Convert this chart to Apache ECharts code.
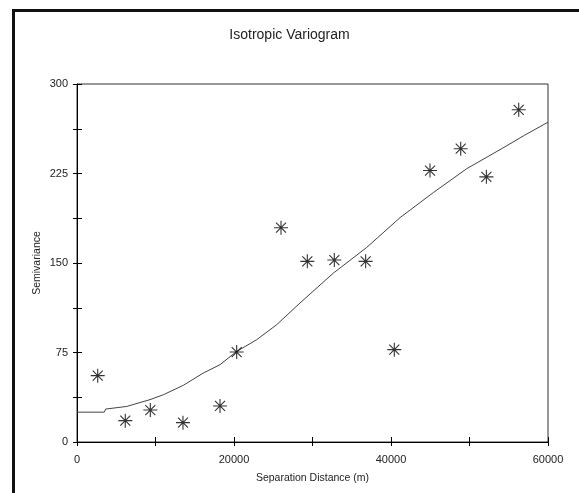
<!DOCTYPE html>
<html>
<head>
<meta charset="utf-8">
<title>Isotropic Variogram</title>
<script src="https://cdn.jsdelivr.net/npm/echarts@6/dist/echarts.min.js"></script>
<style>
  html, body {
    margin: 0;
    padding: 0;
    background: #fff;
  }
  #chart {
    width: 579px;
    height: 493px;
  }
</style>
</head>
<body>
<div id="chart"></div>
<script>
// experimental semivariance points
var lagDistance = [2640, 6150, 9340, 13500, 18220, 20340, 25990, 29340, 32780, 36770, 40420, 44970, 48880, 52150, 56270];
var semivariance = [55.6, 17.9, 26.8, 16.2, 30.2, 75.4, 179.6, 151.4, 152.5, 151.4, 77.4, 227.5, 245.8, 222.2, 278.4];

// fitted model curve
var modelDistance = [0, 3480, 3650, 6330, 9300, 11000, 13540, 16090, 18220, 20340, 22890, 25440, 28410, 32650, 36900, 41150, 45390, 49640, 53890, 57000, 60000];
var modelValue = [25, 25, 27.6, 29.8, 35.5, 39.6, 47.5, 57.8, 64.8, 75.9, 85.7, 98.3, 116.5, 141.5, 163, 188, 209, 229, 245, 257, 268];

var xLabels = [0, 20000, 40000, 60000];
var yLabels = [0, 75, 150, 225, 300];

var textColor = '#222';
var fontFamily = 'Liberation Sans, Arial, sans-serif';

var points = [];
for (var i = 0; i < lagDistance.length; i++) {
  points.push([lagDistance[i], semivariance[i]]);
}
var model = [];
for (var i = 0; i < modelDistance.length; i++) {
  model.push([modelDistance[i], modelValue[i]]);
}

var starPath = 'path://M7 0 L7 14 M0 7 L14 7 M2 2 L12 12 M12 2 L2 12';

var chart = echarts.init(document.getElementById('chart'));

chart.setOption({
  animation: false,
  backgroundColor: '#fff',
  title: {
    text: 'Isotropic Variogram',
    left: 'center',
    top: 23,
    textStyle: {
      color: textColor,
      fontFamily: fontFamily,
      fontSize: 14,
      fontWeight: 'normal',
    },
  },
  graphic: [
    {
      type: 'polyline',
      shape: {
        points: [[13.5, 500], [13.5, 10.5], [590, 10.5]],
      },
      style: {
        stroke: '#111',
        lineWidth: 3,
        fill: null,
      },
      silent: true,
    },
  ],
  grid: {
    left: 77,
    right: 31,
    top: 84,
    bottom: 51,
    show: true,
    borderColor: '#333',
    borderWidth: 1,
    outerBoundsMode: 'none',
  },
  xAxis: [
    {
      type: 'value',
      min: 0,
      max: 60000,
      interval: 10000,
      name: 'Separation Distance (m)',
      nameLocation: 'middle',
      nameGap: 31,
      nameMoveOverlap: false,
      nameTextStyle: {
        color: textColor,
        fontFamily: fontFamily,
        fontSize: 10.5,
      },
      splitLine: { show: false },
      axisLine: { lineStyle: { color: '#000', width: 1 } },
      axisTick: { length: 4, lineStyle: { color: '#000' } },
      axisLabel: {
        color: textColor,
        fontFamily: fontFamily,
        fontSize: 11,
        margin: 12,
        formatter: function (v) {
          return xLabels.indexOf(v) >= 0 ? String(v) : '';
        },
      },
    },
    {
      // inner half of the ticks
      type: 'value',
      position: 'bottom',
      min: 0,
      max: 60000,
      interval: 10000,
      splitLine: { show: false },
      axisLine: { show: false },
      axisTick: { inside: true, length: 5, lineStyle: { color: '#000' } },
      axisLabel: { show: false },
    },
  ],
  yAxis: [
    {
      type: 'value',
      min: 0,
      max: 300,
      interval: 37.5,
      name: 'Semivariance',
      nameLocation: 'middle',
      nameGap: 34,
      nameMoveOverlap: false,
      nameTextStyle: {
        color: textColor,
        fontFamily: fontFamily,
        fontSize: 10.5,
      },
      splitLine: { show: false },
      axisLine: { lineStyle: { color: '#000', width: 1 } },
      axisTick: { length: 4, lineStyle: { color: '#000' } },
      axisLabel: {
        color: textColor,
        fontFamily: fontFamily,
        fontSize: 11,
        margin: 9,
        formatter: function (v) {
          return yLabels.indexOf(v) >= 0 ? String(v) : '';
        },
      },
    },
    {
      type: 'value',
      position: 'left',
      min: 0,
      max: 300,
      interval: 37.5,
      splitLine: { show: false },
      axisLine: { show: false },
      axisTick: { inside: true, length: 5, lineStyle: { color: '#000' } },
      axisLabel: { show: false },
    },
  ],
  series: [
    {
      name: 'model',
      type: 'line',
      data: model,
      showSymbol: false,
      silent: true,
      lineStyle: {
        color: '#444',
        width: 1,
      },
      z: 2,
    },
    {
      name: 'experimental',
      type: 'scatter',
      data: points,
      symbol: starPath,
      symbolSize: 14,
      itemStyle: {
        color: 'rgba(0,0,0,0)',
        borderColor: '#000',
        borderWidth: 1.1,
      },
      z: 3,
    },
  ],
});
</script>
</body>
</html>
